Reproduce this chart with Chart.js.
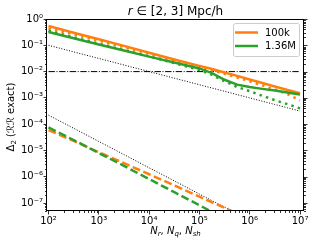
<!DOCTYPE html>
<html>
<head>
<meta charset="utf-8">
<script src="https://cdn.jsdelivr.net/npm/chart.js@4/dist/chart.umd.min.js"></script>
<style>
  html, body { margin: 0; padding: 0; background: #fff; }
</style>
</head>
<body>
<canvas id="grafico" width="315" height="246"></canvas>
<script>
const nValues = [1e2, 316, 1e3, 3162, 1e4, 31623, 1e5, 177828, 316228, 562341, 1e6, 1778279, 3162278, 5623413, 1e7];

const solid100k  = [0.54, 0.30, 0.17, 0.095, 0.052, 0.029, 0.0165, 0.0125, 0.0093, 0.0069, 0.0050, 0.0037, 0.0027, 0.0020, 0.0015];
const dotted100k = [0.44, 0.26, 0.15, 0.085, 0.048, 0.027, 0.015, 0.011, 0.0082, 0.006, 0.0043, 0.003, 0.0021, 0.0014, 0.0008];
const dashed100k = [6.0e-5, 2.3e-5, 8.6e-6, 3.3e-6, 1.25e-6, 4.7e-7, 1.75e-7, 1.07e-7, 6.6e-8, 4.1e-8, 2.5e-8, 1.55e-8, 9.5e-9, 5.8e-9, 3.6e-9];
const solid136M  = [0.32, 0.185, 0.108, 0.063, 0.037, 0.022, 0.0132, 0.0088, 0.0049, 0.0032, 0.0026, 0.0022, 0.0019, 0.0016, 0.00135];
const dotted136M = [0.36, 0.20, 0.115, 0.066, 0.038, 0.021, 0.0115, 0.0075, 0.0043, 0.0026, 0.0018, 0.0012, 0.00082, 0.00058, 0.0004];
const dashed136M = [7.5e-5, 2.5e-5, 8.0e-6, 2.6e-6, 8.2e-7, 2.6e-7, 8.3e-8, 4.6e-8, 2.6e-8, 1.5e-8, 8.5e-9, 4.8e-9, 2.7e-9, 1.5e-9, 8.5e-10];
const refHalf    = [0.1, 0.0562, 0.0316, 0.0178, 0.01, 0.00562, 0.00316, 0.00237, 0.00178, 0.00133, 0.001, 0.00075, 0.000562, 0.00042, 0.000316];
const refOne     = [2.2e-4, 7.0e-5, 2.2e-5, 7.0e-6, 2.2e-6, 7.0e-7, 2.2e-7, 1.24e-7, 7.0e-8, 3.9e-8, 2.2e-8, 1.24e-8, 7.0e-9, 3.9e-9, 2.2e-9];
const limitN = [1e2, 1e7];
const limitY = [1e-2, 1e-2];

const legendLabels = ['100k', '1.36M'];
const xTickExps = [2, 3, 4, 5, 6, 7];
const xTickLabels = ['10²', '10³', '10⁴', '10⁵', '10⁶', '10⁷'];
const yTickExps = [0, -1, -2, -3, -4, -5, -6, -7];
const yTickLabels = ['10⁰', '10⁻¹', '10⁻²', '10⁻³', '10⁻⁴', '10⁻⁵', '10⁻⁶', '10⁻⁷'];

const ORANGE = '#ff7f0e';
const GREEN = '#2ca02c';
const FONT = "'DejaVu Sans', sans-serif";

const pts = (xs, ys) => xs.map((x, i) => ({ x, y: ys[i] }));

function isMajor(v) {
    const l = Math.log10(v);
    return Math.abs(l - Math.round(l)) < 1e-6;
}
function isNice(v) {
    const m = v / Math.pow(10, Math.floor(Math.log10(v) + 1e-9));
    return Math.abs(m - Math.round(m)) < 1e-6;
}

function drawRich(ctx, parts, x, y) {
    let w = 0;
    parts.forEach(p => { ctx.font = p.font; p.w = ctx.measureText(p.t).width; w += p.w; });
    let cx = x - w / 2;
    parts.forEach(p => { ctx.font = p.font; ctx.fillText(p.t, cx, y + (p.dy || 0)); cx += p.w; });
}

const extras = {
    id: 'extras',
    afterDraw(chart) {
        const { ctx, chartArea: a, scales } = chart;
        ctx.save();
        ctx.strokeStyle = '#000';
        ctx.lineWidth = 1;
        ctx.strokeRect(Math.round(a.left) - 0.5, Math.round(a.top) + 0.5, Math.round(a.right - a.left), Math.round(a.bottom - a.top) - 1);

        // minor ticks and right-hand ticks
        ctx.beginPath();
        scales.x.ticks.forEach(t => {
            if (isMajor(t.value) || !isNice(t.value)) return;
            const px = Math.round(scales.x.getPixelForValue(t.value)) + 0.5;
            ctx.moveTo(px, a.bottom); ctx.lineTo(px, a.bottom + 2);
        });
        scales.y.ticks.forEach(t => {
            if (!isNice(t.value)) return;
            const py = Math.round(scales.y.getPixelForValue(t.value)) + 0.5;
            const len = isMajor(t.value) ? 3.5 : 2;
            if (!isMajor(t.value)) { ctx.moveTo(a.left, py); ctx.lineTo(a.left - 2, py); }
            ctx.moveTo(a.right, py); ctx.lineTo(a.right + len, py);
        });
        ctx.lineWidth = 0.8;
        ctx.stroke();

        // title and axis labels
        ctx.fillStyle = '#000';
        ctx.textBaseline = 'alphabetic';
        const cx = (a.left + a.right) / 2;
        drawRich(ctx, [
            { t: 'r', font: 'italic 12px ' + FONT },
            { t: ' ∈ [2, 3] Mpc/h', font: '12px ' + FONT }
        ], cx, 15);
        const it = 'italic 10px ' + FONT, sub = 'italic 7px ' + FONT, rm = '10px ' + FONT;
        drawRich(ctx, [
            { t: 'N', font: it }, { t: 'r', font: sub, dy: 2 }, { t: ', ', font: rm },
            { t: 'N', font: it }, { t: 'q', font: sub, dy: 2 }, { t: ', ', font: rm },
            { t: 'N', font: it }, { t: 'sh', font: sub, dy: 2 }
        ], cx, 234);
        ctx.save();
        ctx.translate(13.5, (a.top + a.bottom) / 2 + 2);
        ctx.rotate(-Math.PI / 2);
        drawRich(ctx, [
            { t: 'Δ', font: rm }, { t: '2', font: '7px ' + FONT, dy: 2 },
            { t: ' (', font: rm }, { t: 'ℛℛ', font: 'italic 10px ' + FONT }, { t: ' exact)', font: rm }
        ], 0, 0);
        ctx.restore();

        // legend
        const lx = 233, ly = 23, lw = 66, lh = 33;
        ctx.beginPath();
        ctx.roundRect(lx + 0.5, ly + 0.5, lw, lh, 2);
        ctx.fillStyle = 'rgba(255,255,255,0.8)';
        ctx.fill();
        ctx.strokeStyle = '#cccccc';
        ctx.lineWidth = 1;
        ctx.stroke();
        const items = chart.data.datasets.filter(d => legendLabels.includes(d.label));
        items.sort((p, q) => legendLabels.indexOf(p.label) - legendLabels.indexOf(q.label));
        items.forEach((d, i) => {
            const y = ly + 9.5 + i * 13.5;
            ctx.beginPath();
            ctx.moveTo(lx + 2, y); ctx.lineTo(lx + 25, y);
            ctx.strokeStyle = d.borderColor;
            ctx.lineWidth = 2.5;
            ctx.stroke();
            ctx.fillStyle = '#000';
            ctx.font = rm;
            ctx.textBaseline = 'middle';
            ctx.fillText(d.label, lx + 32, y + 0.5);
        });
        ctx.restore();
    }
};

const solidStyle = { borderWidth: 2.5, borderDash: [] };
const dottedStyle = { borderWidth: 2.5, borderDash: [2.5, 4.2] };
const dashedStyle = { borderWidth: 2.5, borderDash: [8, 3.5] };

new Chart(document.getElementById('grafico'), {
    type: 'line',
    data: {
        datasets: [
            { label: legendLabels[1], data: pts(nValues, solid136M), borderColor: GREEN, ...solidStyle },
            { label: 'dot136M', data: pts(nValues, dotted136M), borderColor: GREEN, ...dottedStyle },
            { label: 'dash136M', data: pts(nValues, dashed136M), borderColor: GREEN, ...dashedStyle },
            { label: legendLabels[0], data: pts(nValues, solid100k), borderColor: ORANGE, ...solidStyle },
            { label: 'dot100k', data: pts(nValues, dotted100k), borderColor: ORANGE, ...dottedStyle },
            { label: 'dash100k', data: pts(nValues, dashed100k), borderColor: ORANGE, ...dashedStyle },
            { label: 'refHalf', data: pts(nValues, refHalf), borderColor: '#000', borderWidth: 1, borderDash: [1, 1.65] },
            { label: 'refOne', data: pts(nValues, refOne), borderColor: '#000', borderWidth: 1, borderDash: [1, 1.65] },
            { label: 'limit', data: pts(limitN, limitY), borderColor: '#000', borderWidth: 1, borderDash: [6.4, 1.6, 1, 1.6] }
        ]
    },
    options: {
        responsive: false,
        animation: false,
        devicePixelRatio: 1,
        layout: { padding: { top: 19, right: 11, left: 0, bottom: 0 } },
        elements: { point: { radius: 0 }, line: { tension: 0, borderCapStyle: 'butt', fill: false } },
        plugins: { legend: { display: false }, tooltip: { enabled: false } },
        scales: {
            x: {
                type: 'logarithmic', min: 93.3, max: 1.2e7,
                afterFit: s => { s.height = 35; },
                border: { display: false },
                grid: { drawOnChartArea: false, tickLength: 3.5, tickWidth: 0.8,
                        tickColor: c => isMajor(c.tick.value) ? '#000' : 'rgba(0,0,0,0)' },
                ticks: { autoSkip: false, maxRotation: 0, padding: 1, color: '#000',
                         font: { family: FONT, size: 10 },
                         callback: v => isMajor(v) ? (xTickLabels[xTickExps.indexOf(Math.round(Math.log10(v)))] || '') : '' }
            },
            y: {
                type: 'logarithmic', min: 5e-8, max: 1,
                afterFit: s => { s.width = 47; },
                border: { display: false },
                grid: { drawOnChartArea: false, tickLength: 3.5, tickWidth: 0.8,
                        tickColor: c => isMajor(c.tick.value) ? '#000' : 'rgba(0,0,0,0)' },
                ticks: { autoSkip: false, padding: 0.5, color: '#000',
                         font: { family: FONT, size: 10 },
                         callback: v => isMajor(v) ? (yTickLabels[yTickExps.indexOf(Math.round(Math.log10(v)))] || '') : '' }
            }
        }
    },
    plugins: [extras]
});
</script>
</body>
</html>
